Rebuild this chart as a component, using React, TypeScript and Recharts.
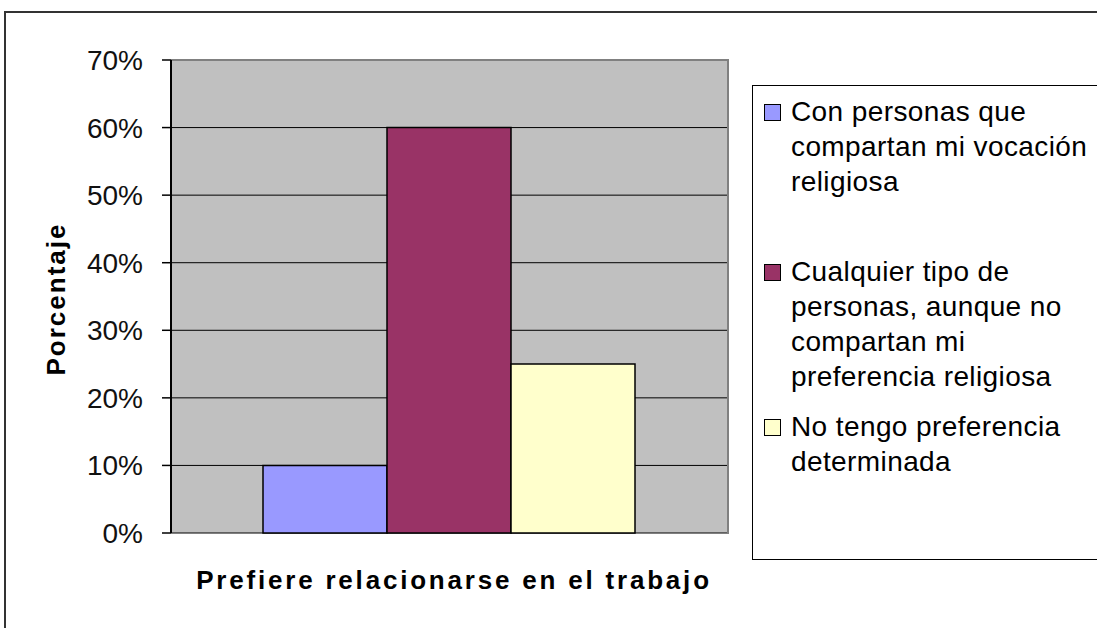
import { Bar, BarChart, CartesianGrid, Legend, XAxis, YAxis } from 'recharts';

const categories = ['Prefiere relacionarse en el trabajo'];
const seriesNames = [
  'Con personas que\ncompartan mi vocación\nreligiosa',
  'Cualquier tipo de\npersonas, aunque no\ncompartan mi\npreferencia religiosa',
  'No tengo preferencia\ndeterminada',
];
const seriesValues = [0.1, 0.6, 0.25];
const seriesColors = ['#9999FF', '#993366', '#FFFFCC'];
const yTicks = [0, 0.1, 0.2, 0.3, 0.4, 0.5, 0.6, 0.7];
const yAxisTitle = 'Porcentaje';

const FONT = '"Liberation Sans", Arial, sans-serif';

const chartData = categories.map((category) => {
  const row: Record<string, string | number> = { category };
  seriesValues.forEach((v, i) => {
    row[`s${i}`] = v;
  });
  return row;
});

// Excel-ish legend: items are not evenly spaced in the original
const itemGaps = [0, 55, 15];

function BoxLegend({ payload }: { payload?: { value: string; color: string }[] }) {
  if (!payload) return null;
  return (
    <div
      style={{
        width: 420,
        height: 475,
        boxSizing: 'border-box',
        border: '1px solid #000',
        borderRight: 'none',
        background: '#fff',
        paddingTop: 8,
        fontFamily: FONT,
        fontSize: 28,
        lineHeight: '35px',
        letterSpacing: 0.4,
        color: '#000',
      }}
    >
      {payload.map((p, i) => (
        <div key={i} style={{ display: 'flex', marginTop: itemGaps[i] }}>
          <div
            style={{
              width: 17,
              height: 17,
              boxSizing: 'border-box',
              border: '1px solid #000',
              background: p.color,
              marginLeft: 11,
              marginTop: 10,
              marginRight: 10,
              flexShrink: 0,
            }}
          />
          <div style={{ whiteSpace: 'pre' }}>{p.value}</div>
        </div>
      ))}
    </div>
  );
}

export default function App() {
  return (
    <div
      style={{
        position: 'fixed',
        left: 0,
        top: 0,
        width: 1097,
        height: 628,
        overflow: 'hidden',
        background: '#fff',
        fontFamily: FONT,
      }}
    >
      <BarChart
        width={1097}
        height={628}
        data={chartData}
        margin={{ top: 60, left: 111, right: 369, bottom: 95 }}
        barCategoryGap={92}
        barGap={0}
        style={{ position: 'absolute', left: 0, top: 0 }}
      >
        <CartesianGrid vertical={false} fill="#C0C0C0" stroke="#000" strokeWidth={1} />
        <XAxis dataKey="category" hide />
        <YAxis
          width={60}
          domain={[0, 0.7]}
          ticks={yTicks}
          interval={0}
          tickFormatter={(v: number) => `${Math.round(v * 100)}%`}
          axisLine={{ stroke: '#000', strokeWidth: 2 }}
          tickLine={{ stroke: '#000', strokeWidth: 1.5 }}
          tickSize={9}
          tickMargin={19}
          tick={{ fill: '#111', fontSize: 28, fontFamily: FONT }}
        />
        {seriesNames.map((name, i) => (
          <Bar
            key={i}
            dataKey={`s${i}`}
            name={name}
            fill={seriesColors[i]}
            stroke="#000"
            strokeWidth={1.5}
            isAnimationActive={false}
          />
        ))}
        <Legend
          layout="vertical"
          align="center"
          verticalAlign="middle"
          wrapperStyle={{ left: 752, top: 85, width: 420, height: 475 }}
          content={(props: any) => <BoxLegend payload={props.payload} />}
        />
      </BarChart>
      <svg
        width={1097}
        height={628}
        style={{ position: 'absolute', left: 0, top: 0, pointerEvents: 'none' }}
      >
        {/* outer chart frame (only left and top edges are in view) */}
        <line x1={5} y1={12} x2={1097} y2={12} stroke="#333" strokeWidth={2} />
        <line x1={5} y1={11} x2={5} y2={628} stroke="#333" strokeWidth={2} />
        {/* plot-area border */}
        <line x1={172} y1={60} x2={728} y2={60} stroke="#808080" strokeWidth={2} />
        <line x1={728} y1={59} x2={728} y2={534} stroke="#808080" strokeWidth={2} />
        <text
          x={454}
          y={589}
          textAnchor="middle"
          fontFamily={FONT}
          fontWeight="bold"
          fontSize={26}
          letterSpacing={2.8}
          fill="#000"
        >
          {categories[0]}
        </text>
        <text
          x={0}
          y={0}
          transform="translate(65 299) rotate(-90)"
          textAnchor="middle"
          fontFamily={FONT}
          fontWeight="bold"
          fontSize={26}
          letterSpacing={2}
          fill="#000"
        >
          {yAxisTitle}
        </text>
      </svg>
    </div>
  );
}
